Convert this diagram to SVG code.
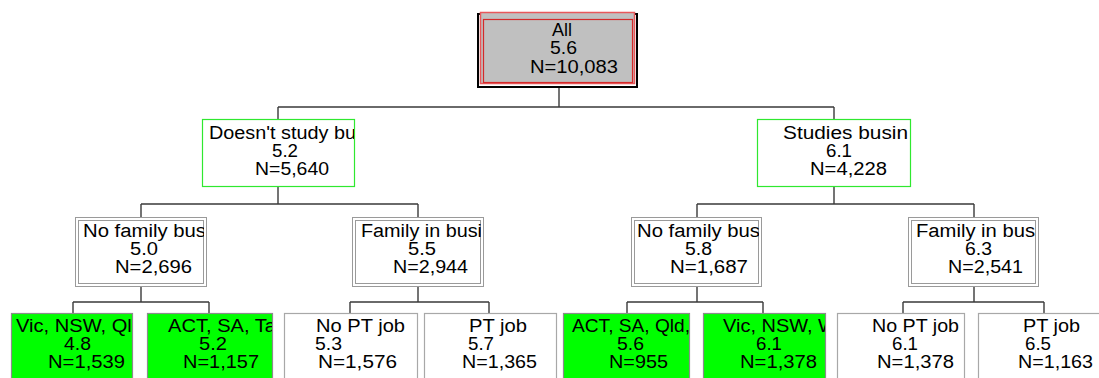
<svg xmlns="http://www.w3.org/2000/svg" width="1099" height="378" viewBox="0 0 1099 378">
<style>
text{font-family:"Liberation Sans",Arial,sans-serif;font-size:18px;fill:#000}
.c{fill:none;stroke:#3a3a3a;stroke-width:1.4}
.g2{fill:#fff;stroke:#2fe82f;stroke-width:1.2}
.d{fill:#fff;stroke:#9a9a9a;stroke-width:1}
.di{fill:none;stroke:#9a9a9a;stroke-width:1}
.gr{fill:#00ff00;stroke:#8c8c8c;stroke-width:1.2}
.w{fill:#fff;stroke:#a8a8a8;stroke-width:1.2}
</style>
<defs>
<clipPath id="k1" clipPathUnits="userSpaceOnUse"><rect x="203" y="120" width="151" height="66"/></clipPath>
<clipPath id="k2" clipPathUnits="userSpaceOnUse"><rect x="758" y="120" width="152" height="66"/></clipPath>
<clipPath id="k3" clipPathUnits="userSpaceOnUse"><rect x="78" y="220" width="126" height="64"/></clipPath>
<clipPath id="k4" clipPathUnits="userSpaceOnUse"><rect x="355" y="220" width="126" height="64"/></clipPath>
<clipPath id="k5" clipPathUnits="userSpaceOnUse"><rect x="634" y="220" width="125" height="64"/></clipPath>
<clipPath id="k6" clipPathUnits="userSpaceOnUse"><rect x="911" y="220" width="125" height="64"/></clipPath>
<clipPath id="k7" clipPathUnits="userSpaceOnUse"><rect x="12" y="314" width="120" height="64"/></clipPath>
<clipPath id="k8" clipPathUnits="userSpaceOnUse"><rect x="148" y="314" width="124" height="64"/></clipPath>
<clipPath id="k9" clipPathUnits="userSpaceOnUse"><rect x="564" y="314" width="125" height="64"/></clipPath>
<clipPath id="k10" clipPathUnits="userSpaceOnUse"><rect x="704" y="314" width="121" height="64"/></clipPath>
</defs>

<g id="connectors">
<path class="c" d="M559 88V107M278 107H834M278 107V119M834 107V119"/>
<path class="c" d="M278 187V204M141 204H418M141 204V217M418 204V217"/>
<path class="c" d="M834 187V204M697 204H974M697 204V217M974 204V217"/>
<path class="c" d="M141 287V302M73 302H209M73 302V313M209 302V313"/>
<path class="c" d="M418 287V302M350 302H489M350 302V313M489 302V313"/>
<path class="c" d="M697 287V302M627 302H763M627 302V313M763 302V313"/>
<path class="c" d="M974 287V302M903 302H1044M903 302V313M1044 302V313"/>
</g>

<g id="n-all">
<rect x="478" y="14" width="159" height="73" fill="#fff" stroke="#000" stroke-width="2"/>
<rect x="480.5" y="12.5" width="154" height="71" fill="#c0c0c0" stroke="#e8575a" stroke-width="1.5"/>
<rect x="483.5" y="19.5" width="149" height="63" fill="none" stroke="#d42a2a" stroke-width="1.2"/>
<text x="552" y="36" textLength="20" lengthAdjust="spacingAndGlyphs">All</text>
<text x="550" y="54" textLength="27" lengthAdjust="spacingAndGlyphs">5.6</text>
<text x="530" y="73" textLength="88" lengthAdjust="spacingAndGlyphs">N=10,083</text>
</g>

<g id="n-doesnt">
<rect class="g2" x="202.5" y="119.5" width="152" height="67"/>
<g clip-path="url(#k1)">
<text x="209" y="139" textLength="147" lengthAdjust="spacingAndGlyphs">Doesn't study bu</text>
</g>
<text x="272" y="157" textLength="26" lengthAdjust="spacingAndGlyphs">5.2</text>
<text x="255" y="175" textLength="74" lengthAdjust="spacingAndGlyphs">N=5,640</text>
</g>

<g id="n-studies">
<rect class="g2" x="757.5" y="119.5" width="153" height="67"/>
<g clip-path="url(#k2)">
<text x="783" y="139" textLength="125" lengthAdjust="spacingAndGlyphs">Studies busin</text>
</g>
<text x="826" y="157" textLength="26" lengthAdjust="spacingAndGlyphs">6.1</text>
<text x="810" y="175" textLength="77" lengthAdjust="spacingAndGlyphs">N=4,228</text>
</g>

<g id="n-nofam-l">
<rect class="d" x="75.5" y="217.5" width="131" height="69"/>
<rect class="di" x="78.5" y="220.5" width="125" height="63"/>
<g clip-path="url(#k3)">
<text x="83" y="237" textLength="123" lengthAdjust="spacingAndGlyphs">No family bus</text>
</g>
<text x="130" y="255" textLength="28" lengthAdjust="spacingAndGlyphs">5.0</text>
<text x="115" y="273" textLength="77" lengthAdjust="spacingAndGlyphs">N=2,696</text>
</g>

<g id="n-fam-l">
<rect class="d" x="352.5" y="217.5" width="131" height="69"/>
<rect class="di" x="355.5" y="220.5" width="125" height="63"/>
<g clip-path="url(#k4)">
<text x="361" y="237" textLength="121" lengthAdjust="spacingAndGlyphs">Family in busi</text>
</g>
<text x="408" y="255" textLength="28" lengthAdjust="spacingAndGlyphs">5.5</text>
<text x="393" y="273" textLength="75" lengthAdjust="spacingAndGlyphs">N=2,944</text>
</g>

<g id="n-nofam-r">
<rect class="d" x="631.5" y="217.5" width="130" height="69"/>
<rect class="di" x="634.5" y="220.5" width="124" height="63"/>
<g clip-path="url(#k5)">
<text x="637" y="237" textLength="123" lengthAdjust="spacingAndGlyphs">No family bus</text>
</g>
<text x="685" y="255" textLength="27" lengthAdjust="spacingAndGlyphs">5.8</text>
<text x="670" y="273" textLength="78" lengthAdjust="spacingAndGlyphs">N=1,687</text>
</g>

<g id="n-fam-r">
<rect class="d" x="908.5" y="217.5" width="130" height="69"/>
<rect class="di" x="911.5" y="220.5" width="124" height="63"/>
<g clip-path="url(#k6)">
<text x="916" y="237" textLength="119" lengthAdjust="spacingAndGlyphs">Family in bus</text>
</g>
<text x="965" y="255" textLength="27" lengthAdjust="spacingAndGlyphs">6.3</text>
<text x="948" y="273" textLength="75" lengthAdjust="spacingAndGlyphs">N=2,541</text>
</g>

<g id="n-vic-l">
<rect class="gr" x="11.5" y="313.5" width="121" height="80"/>
<g clip-path="url(#k7)">
<text x="16" y="332" textLength="127" lengthAdjust="spacingAndGlyphs">Vic, NSW, Qld</text>
</g>
<text x="64" y="350" textLength="27" lengthAdjust="spacingAndGlyphs">4.8</text>
<text x="48" y="368" textLength="77" lengthAdjust="spacingAndGlyphs">N=1,539</text>
</g>

<g id="n-act-l">
<rect class="gr" x="147.5" y="313.5" width="125" height="80"/>
<g clip-path="url(#k8)">
<text x="168" y="332" textLength="108" lengthAdjust="spacingAndGlyphs">ACT, SA, Ta</text>
</g>
<text x="199" y="350" textLength="28" lengthAdjust="spacingAndGlyphs">5.2</text>
<text x="183" y="368" textLength="76" lengthAdjust="spacingAndGlyphs">N=1,157</text>
</g>

<g id="n-nopt-l">
<rect class="w" x="284.5" y="313.5" width="133" height="80"/>
<text x="316" y="332" textLength="89" lengthAdjust="spacingAndGlyphs">No PT job</text>
<text x="315" y="350" textLength="27" lengthAdjust="spacingAndGlyphs">5.3</text>
<text x="318" y="368" textLength="79" lengthAdjust="spacingAndGlyphs">N=1,576</text>
</g>

<g id="n-pt-l">
<rect class="w" x="424.5" y="313.5" width="132" height="80"/>
<text x="469" y="332" textLength="58" lengthAdjust="spacingAndGlyphs">PT job</text>
<text x="468" y="350" textLength="26" lengthAdjust="spacingAndGlyphs">5.7</text>
<text x="462" y="368" textLength="75" lengthAdjust="spacingAndGlyphs">N=1,365</text>
</g>

<g id="n-act-r">
<rect class="gr" x="563.5" y="313.5" width="126" height="80"/>
<g clip-path="url(#k9)">
<text x="572" y="332" textLength="118" lengthAdjust="spacingAndGlyphs">ACT, SA, Qld,</text>
</g>
<text x="617" y="350" textLength="27" lengthAdjust="spacingAndGlyphs">5.6</text>
<text x="609" y="368" textLength="59" lengthAdjust="spacingAndGlyphs">N=955</text>
</g>

<g id="n-vic-r">
<rect class="gr" x="703.5" y="313.5" width="122" height="80"/>
<g clip-path="url(#k10)">
<text x="723" y="332" textLength="114" lengthAdjust="spacingAndGlyphs">Vic, NSW, W</text>
</g>
<text x="756" y="350" textLength="26" lengthAdjust="spacingAndGlyphs">6.1</text>
<text x="740" y="368" textLength="77" lengthAdjust="spacingAndGlyphs">N=1,378</text>
</g>

<g id="n-nopt-r">
<rect class="w" x="837.5" y="313.5" width="127" height="80"/>
<text x="872" y="332" textLength="87" lengthAdjust="spacingAndGlyphs">No PT job</text>
<text x="892" y="350" textLength="26" lengthAdjust="spacingAndGlyphs">6.1</text>
<text x="877" y="368" textLength="77" lengthAdjust="spacingAndGlyphs">N=1,378</text>
</g>

<g id="n-pt-r">
<rect class="w" x="978.5" y="313.5" width="132" height="80"/>
<text x="1023" y="332" textLength="57" lengthAdjust="spacingAndGlyphs">PT job</text>
<text x="1025" y="350" textLength="26" lengthAdjust="spacingAndGlyphs">6.5</text>
<text x="1018" y="368" textLength="75" lengthAdjust="spacingAndGlyphs">N=1,163</text>
</g>
</svg>
